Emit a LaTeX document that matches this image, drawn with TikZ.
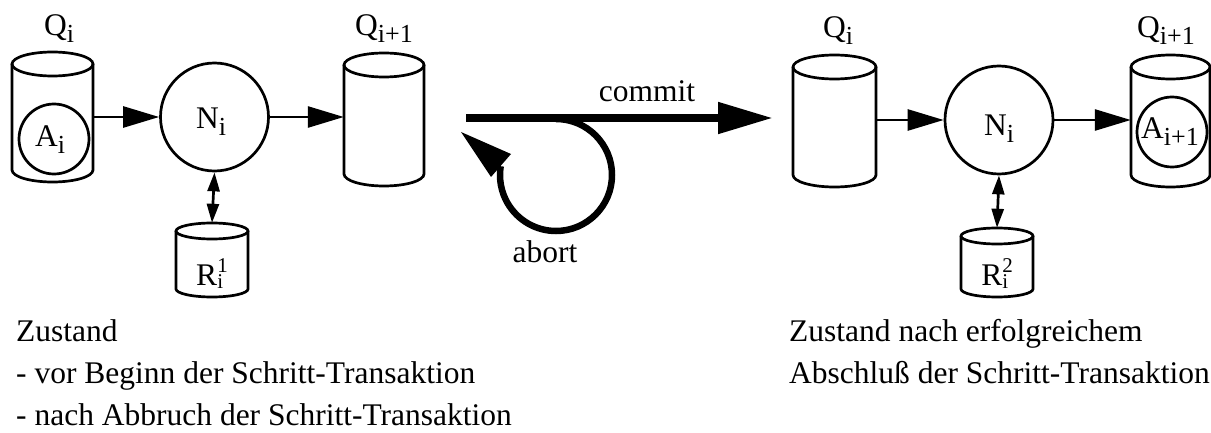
\documentclass[tikz,border=0pt]{standalone}
\usepackage{fontspec}
\setmainfont{Liberation Serif}
\usetikzlibrary{arrows.meta}

% font sizes
\newcommand\bigf{\fontsize{31.5}{36}\selectfont}
\newcommand\subf{\fontsize{26}{26}\selectfont}
\newcommand\supf{\fontsize{21}{21}\selectfont}
% symbol with subscript, and with stacked sub/superscript
\newcommand\Sub[2]{#1\raisebox{-7pt}{\subf #2}}
\newcommand\SubSup[3]{#1\makebox[0pt][l]{\raisebox{-3pt}{\supf #2}}\raisebox{13pt}{\supf #3}}

\tikzset{
  ln/.style={line width=2.7pt},
  cylframe/.style={draw=none, rectangle, inner sep=0pt},
  proc/.style={ln, draw, circle, inner sep=0pt},
  lbl/.style={anchor=base, inner sep=0pt, font=\bigf},
  txt/.style={anchor=base west, inner sep=0pt, font=\bigf},
  flow/.style={ln, -{Triangle[length=36pt,width=21pt]}},
  rw/.style={ln, {Triangle[length=19pt,width=12pt]}-{Triangle[length=19pt,width=12pt]}},
}

% database cylinder: name, centre x, top-ellipse centre y, bottom-ellipse centre y, x radius, y radius
\newcommand\dbcyl[6]{%
  \pgfmathsetmacro\cylW{2*#5}%
  \pgfmathsetmacro\cylH{#4-#3+2*#6}%
  \pgfmathsetmacro\cylM{(#3+#4)/2}%
  \node[cylframe, minimum width=\cylW pt, minimum height=\cylH pt] (#1) at (#2,\cylM) {};
  \draw[ln] (#2,#3) ellipse[x radius=#5pt, y radius=#6pt];
  \draw[ln] (#2-#5,#3) -- (#2-#5,#4) arc[start angle=180, end angle=360, x radius=#5pt, y radius=#6pt] -- (#2+#5,#3);
}

\begin{document}
\begin{tikzpicture}[x=1pt, y=-1pt]
\useasboundingbox (0,0) rectangle (1211,433);

% ---------- state before the step transaction ----------
\dbcyl{qa}{52.5}{64}{170}{40.5}{12}
\dbcyl{qb}{384}{65}{174}{40}{12}
\dbcyl{ra}{212}{231}{289}{36}{8}
\node[proc, minimum size=108pt] (na) at (214.5,117) {};
\node[proc, minimum size=70pt] (aa) at (54,139) {};

\node[lbl] at (59,36) {\Sub{Q}{i}};
\node[lbl] at (384,36) {\Sub{Q}{i+1}};
\node[lbl] at (50,147) {\Sub{A}{i}};
\node[lbl] at (211,129) {\Sub{N}{i}};
\node[lbl] at (212,285) {\SubSup{R}{i}{1}};

\draw[flow] (qa.east |- na.west) -- (na.west);
\draw[flow] (na.east) -- (na.east -| qb.west);
\draw[rw] (na.south) -- (ra.north);

% ---------- commit / abort ----------
\coordinate (cs) at (466,118);
\coordinate (ce) at (773,118);
\draw[line width=8pt, -{Triangle[length=55pt,width=30pt]}] (cs) -- (ce);
\node[lbl] at (647,102) {commit};

\coordinate (ls) at (556,119);
\coordinate (lt) at (461,132);
\coordinate (lu) at (511,154);
\coordinate (lv) at (491,177);
\draw[line width=6.5pt] (ls) arc[start angle=90, end angle=-189, radius=56pt];
\fill (lt) -- (lu) -- (lv) -- cycle;
\node[lbl] at (545,262) {abort};

% ---------- state after successful completion ----------
\dbcyl{qc}{834.5}{67}{175}{41.5}{12}
\dbcyl{qd}{1170.5}{67}{175}{39.5}{12}
\dbcyl{rb}{997}{236}{289}{36}{8}
\node[proc, minimum size=108pt] (nb) at (999,120) {};
\node[proc, minimum size=70pt] (ab) at (1172,132) {};

\node[lbl] at (838,38) {\Sub{Q}{i}};
\node[lbl] at (1166,38) {\Sub{Q}{i+1}};
\node[lbl] at (1170,139) {\Sub{A}{i+1}};
\node[lbl] at (999,136) {\Sub{N}{i}};
\node[lbl] at (997,285) {\SubSup{R}{i}{2}};

\draw[flow] (qc.east |- nb.west) -- (nb.west);
\draw[flow] (nb.east) -- (nb.east -| qd.west);
\draw[rw] (nb.south) -- (rb.north);

% ---------- captions ----------
\node[txt] at (16,341) {Zustand};
\node[txt] at (16,383) {- vor Beginn der Schritt-Transaktion};
\node[txt] at (16,425) {- nach Abbruch der Schritt-Transaktion};
\node[txt] at (789,341) {Zustand nach erfolgreichem};
\node[txt] at (789,383) {Abschluß der Schritt-Transaktion};
\end{tikzpicture}
\end{document}
